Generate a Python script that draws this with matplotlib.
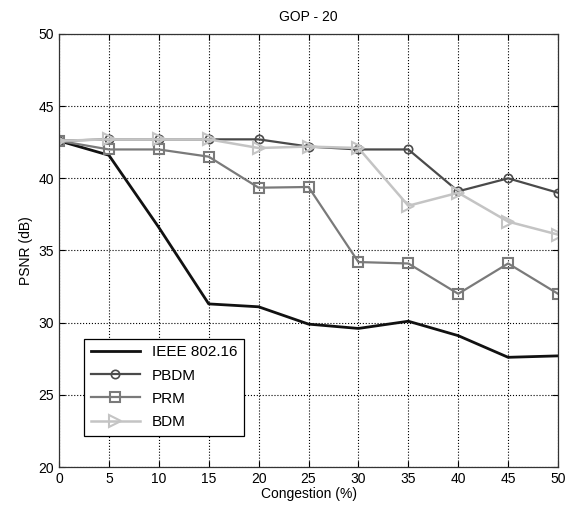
import matplotlib
matplotlib.use('Agg')
import matplotlib.pyplot as plt

# data
congestion = [0, 5, 10, 15, 20, 25, 30, 35, 40, 45, 50]
ieee = [42.6, 41.6, 36.6, 31.3, 31.1, 29.9, 29.6, 30.1, 29.1, 27.6, 27.7]
pbdm = [42.6, 42.7, 42.7, 42.7, 42.7, 42.2, 42.0, 42.0, 39.1, 40.0, 39.0]
prm = [42.6, 42.0, 42.0, 41.5, 39.35, 39.4, 34.2, 34.1, 32.0, 34.1, 32.0]
bdm = [42.6, 42.7, 42.7, 42.7, 42.1, 42.2, 42.1, 38.1, 39.0, 37.0, 36.1]

plt.rcParams['font.family'] = ['Liberation Sans', 'DejaVu Sans']

fig = plt.figure(figsize=(5.7, 5.14), dpi=100)
ax = fig.add_axes([0.1035, 0.0914, 0.8755, 0.8425])

ax.plot(congestion, ieee, color='#111111', lw=2.0, label='IEEE 802.16')
ax.plot(congestion, pbdm, color='#4a4a4a', lw=1.6, marker='o', ms=6,
        mfc='none', mew=1.2, label='PBDM')
ax.plot(congestion, prm, color='#7a7a7a', lw=1.6, marker='s', ms=7,
        mfc='none', mew=1.5, label='PRM')
ax.plot(congestion, bdm, color='#c4c4c4', lw=1.8, marker='>', ms=8,
        mfc='none', mew=1.5, label='BDM')

ax.set_xlim(0, 50)
ax.set_ylim(20, 50)
ax.set_xticks(range(0, 51, 5))
ax.set_yticks(range(20, 51, 5))
ax.grid(True, color='black', linestyle=':', linewidth=0.8)
ax.tick_params(direction='in', top=True, right=True, labelsize=10, length=4)
for s in ax.spines.values():
    s.set_linewidth(0.9)
    s.set_color('#333333')

ax.set_xlabel('Congestion (%)', fontsize=10, labelpad=1)
ax.set_ylabel('PSNR (dB)', fontsize=10)
ax.set_title('GOP - 20', fontsize=10, pad=9)

leg = ax.legend(loc='lower left', bbox_to_anchor=(0.05, 0.072), fontsize=11,
                fancybox=False, framealpha=1, edgecolor='black',
                borderaxespad=0, borderpad=0.45, handlelength=3.2,
                labelspacing=0.6)
leg.get_frame().set_linewidth(0.9)

fig.savefig('out.png', dpi=100)
